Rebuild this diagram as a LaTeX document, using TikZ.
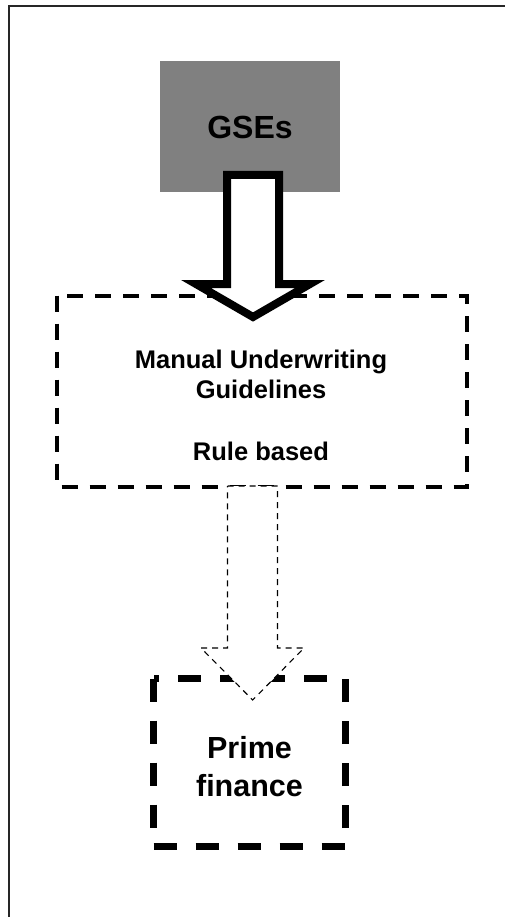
\documentclass[tikz,border=0pt]{standalone}
\usepackage{fontspec}
\setmainfont{Liberation Sans}
\begin{document}
\begin{tikzpicture}[x=1pt,y=-1pt,
  txt/.style={font=\bfseries, align=center, text=black, inner sep=0pt, anchor=base},
  midfont/.style={font=\bfseries\fontsize{25.5}{30}\selectfont},
  bigfont/.style={font=\bfseries\fontsize{30.5}{38}\selectfont},
  bigdash/.style={draw=black, line width=4pt, dash pattern=on 16pt off 12pt},
  heavydash/.style={draw=black, line width=7pt, dash pattern=on 23pt off 19pt},
  fatarrow/.style={draw=black, fill=white, line width=8pt, line join=miter},
  thinarrow/.style={draw=black, fill=white, line width=1.1pt, dash pattern=on 6pt off 5pt},
  frameline/.style={draw=black!85, line width=1.3pt}]
\useasboundingbox (0,0) rectangle (505,917);

% page frame (only top and left edges show)
\draw[frameline] (9,917) -- (9,6) -- (505,6);

% source box
\node[fill=black!50, minimum width=180pt, minimum height=131pt, inner sep=0pt] (gse) at (250,126.5) {};
\node[txt, font=\bfseries\fontsize{32}{38}\selectfont] (gsetext) at (250,139) {GSEs};

% guidelines box
\draw[bigdash] (56.7,295.5) rectangle (466.7,486.5);
\node[txt, midfont] (guide1) at (261,368) {Manual Underwriting};
\node[txt, midfont] (guide2) at (261,398) {Guidelines};
\node[txt, midfont] (rule) at (261,460) {Rule based};

% outcome box
\draw[heavydash] (153.5,678.5) rectangle (345,846.5);
\node[txt, bigfont] (prime1) at (249.5,758) {Prime};
\node[txt, bigfont] (prime2) at (249.5,796) {finance};

% block arrow from the source box to the guidelines box
\draw[fatarrow] (227,175) -- (279,175) -- (279,284) -- (310,284) -- (253,317)
  -- (196,284) -- (227,284) -- cycle;

% dashed outline arrow from the guidelines box to the outcome box
\draw[thinarrow] (227.5,486) -- (277.5,486) -- (277.5,648) -- (304,648) -- (252.7,700)
  -- (201,648) -- (227.5,648) -- cycle;
\end{tikzpicture}
\end{document}
